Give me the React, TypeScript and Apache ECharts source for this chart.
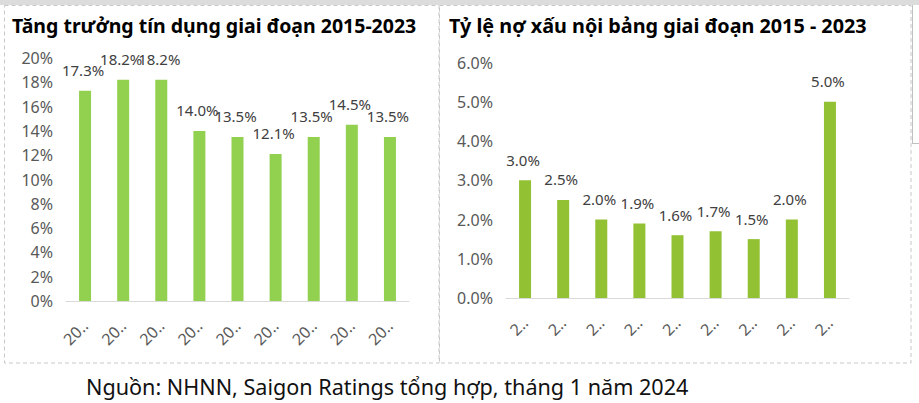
import React, { useEffect, useRef } from "react";
import * as echarts from "echarts";

// Credit growth by year (%)
const years = ["2015", "2016", "2017", "2018", "2019", "2020", "2021", "2022", "2023"];
const creditGrowth = [17.3, 18.2, 18.2, 14.0, 13.5, 12.1, 13.5, 14.5, 13.5];
// On-balance-sheet NPL ratio by year (%)
const nplRatio = [3.0, 2.5, 2.0, 1.9, 1.6, 1.7, 1.5, 2.0, 5.0];

const leftTitle = "Tăng trưởng tín dụng giai đoạn 2015-2023";
const rightTitle = "Tỷ lệ nợ xấu nội bảng giai đoạn 2015 - 2023";
const sourceNote = "Nguồn: NHNN, Saigon Ratings tổng hợp, tháng 1 năm 2024";

const FONT = "'Noto Sans', 'DejaVu Sans', sans-serif";
const AXIS_GRAY = "#595959";
const LABEL_GRAY = "#404040";

export default function App() {
  const ref = useRef<HTMLDivElement>(null);

  useEffect(() => {
    if (!ref.current) return;
    const chart = echarts.init(ref.current, undefined, { renderer: "svg" });

    const xAxisCommon = (short: (v: string) => string) => ({
      type: "category" as const,
      data: years,
      axisTick: { show: false },
      axisLine: { lineStyle: { color: "#d9d9d9", width: 1 } },
      axisLabel: {
        rotate: 45,
        margin: 22,
        color: AXIS_GRAY,
        fontFamily: FONT,
        fontSize: 16,
        formatter: short,
      },
    });

    const valueLabel = {
      show: true,
      position: "top" as const,
      distance: 13,
      offset: [-2, 0],
      color: LABEL_GRAY,
      fontFamily: FONT,
      fontSize: 15,
      formatter: (p: any) => `${Number(p.value).toFixed(1)}%`,
    };

    chart.setOption({
      animation: false,
      backgroundColor: "#ffffff",
      textStyle: { fontFamily: FONT },
      graphic: [
        { type: "rect", shape: { x: 0, y: 0, width: 919, height: 5 }, style: { fill: "#dcdcdc" }, silent: true },
        {
          type: "rect",
          shape: { x: 4.5, y: 5.5, width: 434.5, height: 357.5 },
          style: { fill: "none", stroke: "#c8c8c8", lineWidth: 1, lineDash: [4, 3] },
          silent: true,
        },
        {
          type: "rect",
          shape: { x: 439.5, y: 5.5, width: 471.5, height: 357.5 },
          style: { fill: "none", stroke: "#c8c8c8", lineWidth: 1, lineDash: [4, 3] },
          silent: true,
        },
        { type: "line", shape: { x1: 912.5, y1: 5, x2: 912.5, y2: 143 }, style: { stroke: "#c0c0c0", lineWidth: 1 }, silent: true },
        { type: "line", shape: { x1: 912, y1: 143.5, x2: 919, y2: 143.5 }, style: { stroke: "#c0c0c0", lineWidth: 1 }, silent: true },
        {
          type: "text",
          x: 12,
          y: 25,
          style: { text: leftTitle, fontFamily: FONT, fontSize: 19.5, fontWeight: "bold", fill: "#000", verticalAlign: "middle" },
        },
        {
          type: "text",
          x: 449,
          y: 25,
          style: { text: rightTitle, fontFamily: FONT, fontSize: 19.8, fontWeight: "bold", fill: "#000", verticalAlign: "middle" },
        },
        {
          type: "text",
          x: 86,
          y: 386,
          style: { text: sourceNote, fontFamily: FONT, fontSize: 21.6, fill: "#111", verticalAlign: "middle" },
        },
      ],
      grid: [
        { left: 66, top: 58, width: 343, height: 243 },
        { left: 506, top: 62.5, width: 343, height: 235.5 },
      ],
      xAxis: [
        { ...xAxisCommon((v: string) => v.slice(0, 2) + "‥"), gridIndex: 0 },
        { ...xAxisCommon((v: string) => v.slice(0, 1) + "‥"), gridIndex: 1 },
      ],
      yAxis: [
        {
          type: "value",
          gridIndex: 0,
          min: 0,
          max: 20,
          interval: 2,
          splitLine: { show: false },
          axisLine: { show: false },
          axisTick: { show: false },
          axisLabel: { margin: 13, color: AXIS_GRAY, fontFamily: FONT, fontSize: 16, formatter: (v: number) => `${v}%` },
        },
        {
          type: "value",
          gridIndex: 1,
          min: 0,
          max: 6,
          interval: 1,
          splitLine: { show: false },
          axisLine: { show: false },
          axisTick: { show: false },
          axisLabel: { margin: 13, color: AXIS_GRAY, fontFamily: FONT, fontSize: 16, formatter: (v: number) => `${v.toFixed(1)}%` },
        },
      ],
      series: [
        {
          type: "bar",
          xAxisIndex: 0,
          yAxisIndex: 0,
          data: creditGrowth,
          barWidth: 12,
          itemStyle: { color: "#92d050" },
          label: valueLabel,
        },
        {
          type: "bar",
          xAxisIndex: 1,
          yAxisIndex: 1,
          data: nplRatio,
          barWidth: 12,
          itemStyle: { color: "#92c134" },
          label: valueLabel,
        },
      ],
    });

    return () => chart.dispose();
  }, []);

  return <div ref={ref} style={{ position: "fixed", left: 0, top: 0, width: 919, height: 403 }} />;
}
